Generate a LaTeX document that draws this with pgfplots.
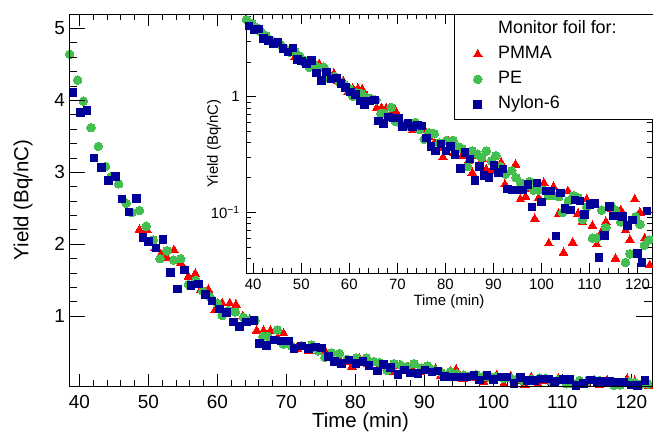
\documentclass[border=0pt]{standalone}
\usepackage{fontspec}
\setmainfont{Liberation Sans}
\usepackage{pgfplots}
\pgfplotsset{compat=1.18}
\usepackage{pgfplotstable}
\definecolor{cRed}{RGB}{255,0,0}
\definecolor{cGreen}{RGB}{68,190,80}
\definecolor{cBlue}{RGB}{0,0,153}

\pgfplotstableread{
x y
48.7 2.20
49.8 2.20
51.0 1.95
51.8 1.86
52.7 1.81
53.7 1.92
54.7 1.74
55.8 1.55
56.8 1.59
57.6 1.37
58.7 1.37
59.7 1.09
60.7 1.18
61.8 1.18
62.7 1.16
63.7 1.00
64.7 0.95
65.7 0.80
66.7 0.80
67.7 0.80
68.7 0.70
69.6 0.76
70.5 0.61
71.5 0.55
72.4 0.57
73.3 0.52
74.6 0.52
75.6 0.52
76.6 0.45
77.7 0.40
78.6 0.36
79.5 0.30
80.6 0.41
81.8 0.33
82.6 0.36
83.5 0.31
84.8 0.28
85.6 0.22
86.4 0.31
87.7 0.29
88.5 0.235
89.4 0.227
90.5 0.24
91.6 0.27
92.4 0.175
93.8 0.227
94.6 0.26
95.6 0.13
96.7 0.137
97.6 0.16
98.6 0.088
99.4 0.134
100.5 0.18
101.5 0.054
102.5 0.167
103.6 0.098
104.6 0.045
105.5 0.153
106.5 0.055
107.6 0.098
108.5 0.083
109.4 0.13
110.6 0.077
111.5 0.053
112.5 0.068
113.4 0.083
114.6 0.108
115.4 0.04
116.5 0.105
117.5 0.07
118.4 0.058
119.4 0.13
120.5 0.10
121.5 0.06
122.5 0.035
}\pmma

\pgfplotstableread{
x y
38.6 4.64
39.75 4.28
40.6 3.99
41.7 3.62
42.75 3.36
43.8 3.08
44.6 2.94
45.7 2.84
46.8 2.57
47.6 2.44
48.7 2.47
49.7 2.25
50.7 2.06
51.7 1.80
52.7 1.91
53.7 1.78
54.7 1.80
55.8 1.44
56.9 1.50
57.9 1.35
58.9 1.27
60.0 1.18
60.7 1.01
61.6 1.08
62.6 1.06
63.8 0.98
64.8 0.95
65.5 0.94
66.6 0.72
67.3 0.72
68.7 0.81
69.6 0.61
70.8 0.585
72.2 0.59
73.7 0.60
74.6 0.52
75.6 0.43
76.6 0.49
77.7 0.48
78.8 0.40
80.2 0.42
81.6 0.42
82.7 0.37
83.5 0.355
84.6 0.25
85.6 0.34
86.6 0.32
87.5 0.30
88.5 0.34
89.6 0.28
90.5 0.31
91.5 0.25
92.5 0.215
93.8 0.23
94.7 0.20
95.7 0.18
96.7 0.17
97.5 0.186
98.4 0.156
99.4 0.156
100.5 0.156
101.5 0.14
102.5 0.14
103.6 0.137
104.4 0.10
105.6 0.126
106.7 0.14
107.6 0.134
108.5 0.087
109.4 0.112
110.6 0.06
111.5 0.06
112.5 0.105
113.4 0.074
114.6 0.112
115.4 0.105
116.5 0.083
117.5 0.037
118.4 0.044
119.6 0.092
120.5 0.079
121.4 0.052
122.4 0.058
}\pe

\pgfplotstableread{
x y
39.1 4.11
40.2 3.83
41.1 3.86
42.1 3.20
43.2 3.07
44.2 2.89
45.2 2.94
46.2 2.63
47.2 2.45
48.3 2.64
49.2 2.09
50.0 2.04
51.1 1.95
52.1 2.07
53.2 1.61
54.2 1.38
55.2 1.64
56.2 1.43
57.3 1.45
58.3 1.30
59.2 1.21
60.3 1.10
61.3 1.05
62.3 0.92
63.2 0.86
64.2 0.92
65.3 0.94
66.1 0.62
67.1 0.59
68.2 0.67
69.2 0.655
70.3 0.655
71.1 0.555
72.2 0.585
73.2 0.555
74.2 0.57
75.1 0.56
76.1 0.44
77.0 0.37
78.0 0.34
79.1 0.39
80.1 0.34
81.1 0.37
82.0 0.316
83.2 0.24
84.1 0.33
85.1 0.29
86.2 0.19
87.1 0.25
88.0 0.21
89.1 0.20
90.1 0.254
91.1 0.223
92.0 0.238
92.9 0.16
94.0 0.156
95.1 0.156
96.1 0.156
97.2 0.175
98.0 0.112
99.1 0.18
100.0 0.123
101.1 0.153
102.0 0.153
103.0 0.0625
103.9 0.148
104.9 0.108
106.0 0.105
107.0 0.128
108.0 0.126
108.9 0.096
110.1 0.117
111.0 0.12
112.0 0.041
113.1 0.063
114.1 0.113
115.0 0.093
115.8 0.093
116.8 0.092
117.9 0.077
118.9 0.086
120.0 0.044
120.9 0.037
122.0 0.103
}\nylon

\pgfplotsset{
  redmk/.style={only marks, mark=triangle*, mark size=5bp, color=cRed, mark options={draw=cRed, fill=cRed, line width=0pt}},
  greenmk/.style={only marks, mark=*, mark size=4.3bp, color=cGreen, mark options={draw=cGreen, fill=cGreen, line width=0pt}},
  bluemk/.style={only marks, mark=square*, mark size=3.8bp, color=cBlue, mark options={draw=cBlue, fill=cBlue, line width=0pt}},
  frame/.style={scale only axis, axis line style={line width=0.8bp}, tick style={black, line width=0.8bp},
    tick align=inside, clip=false, /pgf/number format/assume math mode=true},
}

\begin{document}
\begin{tikzpicture}
% main axis: data + x ticks
\begin{axis}[frame, name=main, at={(0,0)}, anchor=south west,
  width=583bp, height=372bp,
  xmin=38.5, xmax=123, ymin=0.03, ymax=5.2,
  xtick={40,50,...,120}, minor x tick num=4, ytick=\empty,
  xtick pos=both,
  major tick length=12bp, minor tick length=6bp,
  xticklabel style={font=\fontsize{19}{19}\selectfont, anchor=base, yshift=-22bp},
  xlabel={Time (min)},
  xlabel style={font=\fontsize{20.5}{20.5}\selectfont, at={(axis description cs:0.5,0)}, anchor=base, yshift=-41.7bp},
]
\addplot[redmk] table {\pmma};
\addplot[greenmk] table {\pe};
\addplot[bluemk] table {\nylon};
\end{axis}
% main axis: y ticks
\begin{axis}[frame, at={(0,0)}, anchor=south west,
  width=583bp, height=372bp,
  xmin=38.5, xmax=123, ymin=0.03, ymax=5.2,
  xtick=\empty, ytick={1,2,3,4,5}, minor y tick num=4,
  ytick pos=both,
  major tick length=16bp, minor tick length=8bp,
  yticklabel style={font=\fontsize{19}{19}\selectfont, anchor=east, inner xsep=0pt, xshift=-4bp},
  ylabel={Yield (Bq/nC)},
  ylabel style={font=\fontsize{20.5}{20.5}\selectfont, at={(axis description cs:-0.0698,0.5)}, anchor=base},
]
\addplot[draw=none] coordinates {(50,1)};
\end{axis}
% inset
\begin{axis}[frame, at={(177bp,113bp)}, anchor=south west,
  width=406bp, height=259bp, ymode=log,
  xmin=38.5, xmax=123, ymin=0.03, ymax=5.2,
  axis background/.style={fill=white},
  xtick={40,50,...,120}, minor x tick num=4,
  ytick={0.1,1}, yticklabels={10\textsuperscript{−1},1},
  minor ytick={0.03,0.04,0.05,0.06,0.07,0.08,0.09,0.2,0.3,0.4,0.5,0.6,0.7,0.8,0.9,2,3,4,5},
  xtick pos=both, ytick pos=both,
  major tick length=10bp, minor tick length=5bp,
  xticklabel style={font=\fontsize{15}{15}\selectfont, anchor=base, yshift=-16bp},
  yticklabel style={font=\fontsize{15}{15}\selectfont, anchor=east, inner xsep=0pt, xshift=-6bp},
  xlabel={Time (min)},
  xlabel style={font=\fontsize{15}{15}\selectfont, at={(axis description cs:0.5,0)}, anchor=base, yshift=-32bp},
  ylabel={Yield (Bq/nC)},
  ylabel style={font=\fontsize{15}{15}\selectfont, at={(axis description cs:-0.069,0.5)}, anchor=base},
  legend style={at={(axis description cs:0.512,1)}, anchor=north west,
    font=\fontsize{18}{18}\selectfont, draw=black, line width=0.8bp, fill=white,
    inner xsep=15bp, inner ysep=5bp, row sep=5bp,
    nodes={text height=12.5bp, text depth=3.5bp},
    /tikz/every odd column/.append style={column sep=14bp}},
  legend cell align=left,
]
\addlegendimage{empty legend}
\addlegendentry{Monitor foil for:\hspace*{40bp}}
\addplot[redmk] table {\pmma};
\addlegendentry{PMMA}
\addplot[greenmk] table {\pe};
\addlegendentry{PE}
\addplot[bluemk] table {\nylon};
\addlegendentry{Nylon-6}
\end{axis}
\pgfresetboundingbox
\path[use as bounding box] (-69bp,-47bp) rectangle (584bp,386bp);
\end{tikzpicture}
\end{document}
